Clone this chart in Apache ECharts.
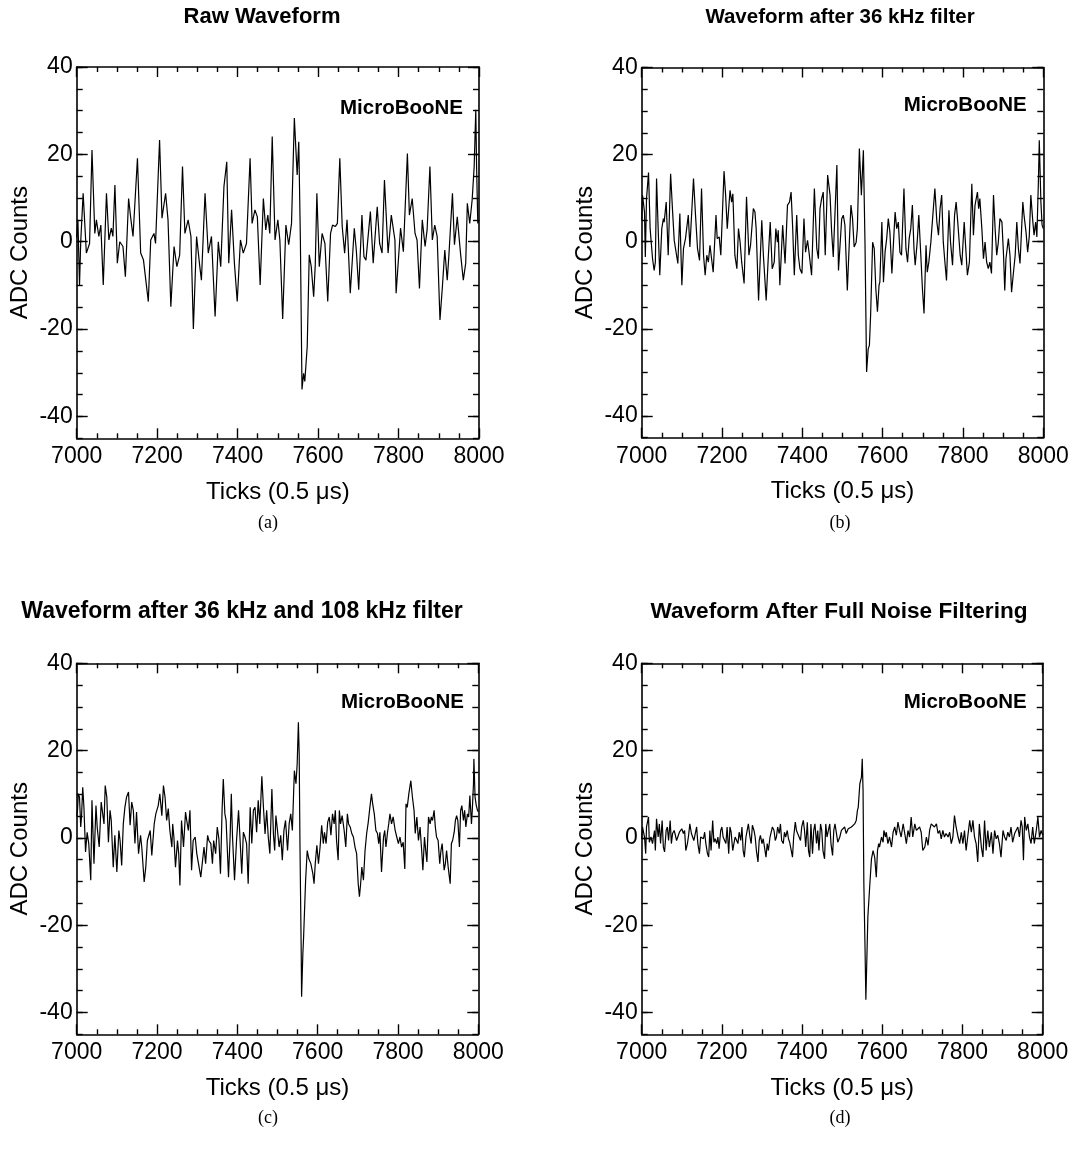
<!DOCTYPE html>
<html>
<head>
<meta charset="utf-8">
<script src="https://cdn.jsdelivr.net/npm/echarts@6/dist/echarts.min.js"></script>
<style>
html,body{margin:0;padding:0;background:#fff;}
#chart{width:1078px;height:1167px;}
</style>
</head>
<body>
<div id="chart"></div>
<script>
// ---- Data: [tick, ADC counts] ----
const rawWaveform = [[7000,1],[7003,5],[7007,-10],[7010,0],[7016,11.1],[7024,-2.6],[7032,-0.4],[7038,21],[7045,1.9],[7049,5],[7055,1.2],[7060,3.8],[7066,-9.9],[7074,11.1],[7080,0.4],[7086,3.1],[7090,1.2],[7095,13],[7101,-4.9],[7107,0],[7115,-1.1],[7121,-8],[7129,9.9],[7134,5.7],[7140,1.2],[7151,19.1],[7159,-2.6],[7166,-4.2],[7178,-13.7],[7184,0.4],[7192,1.9],[7196,-0.4],[7206,23.3],[7212,5.4],[7221,11.1],[7227,5],[7234,-14.9],[7242,-1.1],[7249,-5.7],[7256,-3],[7263,17.2],[7269,1.9],[7277,5],[7284,1.2],[7290,-20],[7298,1.2],[7306,-5.7],[7310,-8.8],[7319,11.1],[7327,-2.6],[7335,1.2],[7344,-17.1],[7352,0],[7358,-5.7],[7366,12.6],[7373,18.3],[7378,-4.9],[7385,7.3],[7392,-4.9],[7399,-13.7],[7407,0.4],[7414,-2.6],[7422,-0.4],[7431,19.1],[7436,4.2],[7443,7.3],[7449,5.7],[7456,-9.9],[7464,9.9],[7470,2.7],[7475,6.1],[7480,1.9],[7486,24.1],[7493,0.4],[7500,5],[7505,0.4],[7512,-17.7],[7520,3.8],[7527,-0.7],[7534,4.2],[7541,28.3],[7548,15.3],[7552,22.9],[7556,0.4],[7560,-33.8],[7564,-30.1],[7567,-32],[7573,-24],[7578,-3],[7583,-5.7],[7589,-12.6],[7593,-5.3],[7597,11.1],[7603,-5.7],[7610,1.9],[7617,-0.4],[7624,-13.7],[7631,1.9],[7636,3.8],[7643,3.5],[7648,4.2],[7654,19.1],[7660,3.5],[7666,-2.6],[7672,5],[7680,-11.8],[7690,3.1],[7695,-1.9],[7701,-11],[7709,6.1],[7714,-3.4],[7719,-4.2],[7730,6.9],[7737,-4.9],[7747,8],[7753,-0.4],[7759,-2.6],[7765,14.1],[7774,-2.6],[7782,6.1],[7791,0.4],[7794,-11.8],[7805,3.1],[7812,-2.3],[7822,20.2],[7827,6.1],[7834,9.9],[7841,1.9],[7846,0.4],[7852,-10.7],[7859,5],[7866,-1.1],[7871,2.7],[7878,17.2],[7884,0.4],[7890,3.8],[7896,1.2],[7903,-17.9],[7909,-10.3],[7915,-1.9],[7921,-8.8],[7925,-3.4],[7934,11.1],[7939,-0.7],[7946,5.7],[7954,-2.6],[7961,-8.8],[7967,-4.9],[7971,8.8],[7977,4.2],[7983,9.6],[7988,17.2],[7992,30.2],[7994,17.2],[7997,4.2],[8000,5]];

const filter36Waveform = [[7000,5],[7002,10.7],[7007,6.8],[7009,-3.5],[7012,9.9],[7017,15.9],[7021,3],[7027,-3.9],[7031,-6.6],[7034,-4.7],[7037,14.5],[7041,3],[7045,-7.7],[7050,3],[7054,5.3],[7056,4.5],[7061,9.1],[7066,-3.1],[7072,15.6],[7077,6.8],[7081,0.3],[7085,0.7],[7090,-5],[7095,6.5],[7100,-10],[7104,-1.6],[7109,0.7],[7112,0.3],[7116,6.1],[7120,-1.2],[7129,14.5],[7134,6.1],[7139,-1.6],[7144,-4.3],[7149,12.2],[7154,-3.1],[7158,-7.7],[7162,-3.1],[7166,-4.7],[7170,-0.8],[7174,-3.9],[7178,-7],[7185,6.1],[7188,0.7],[7193,1.1],[7197,-3.1],[7205,16.2],[7209,10.7],[7213,3],[7220,11.8],[7224,9.1],[7227,11],[7232,-3.1],[7237,-6.2],[7241,3],[7245,-0.1],[7249,-4.7],[7255,-9.6],[7261,10.3],[7267,-3.1],[7271,-0.8],[7278,7.6],[7282,6.8],[7285,3],[7291,-13.5],[7299,4.9],[7303,-3.1],[7310,-13.5],[7315,-3.9],[7320,4.5],[7325,-6.2],[7330,-4.7],[7334,3],[7338,-0.1],[7340,2.6],[7344,-10],[7351,3.8],[7357,-5],[7363,8.4],[7368,9.1],[7372,11.4],[7376,3],[7380,-7.7],[7386,6.1],[7390,-3.1],[7394,-6.2],[7399,-7.3],[7404,5.3],[7408,-2.4],[7413,0.3],[7417,-2.7],[7423,-7.7],[7430,12.2],[7436,-1.6],[7440,-3.9],[7444,7.6],[7448,9.9],[7452,11.4],[7457,-3.1],[7463,15.3],[7469,10.7],[7473,2.2],[7477,-3.5],[7481,-3.1],[7486,17.6],[7490,-6.6],[7498,5.3],[7502,6.1],[7506,3.8],[7512,-11.2],[7517,-0.1],[7521,8.4],[7525,5.3],[7529,-1.2],[7534,-0.1],[7537,3],[7542,21.4],[7547,10.7],[7552,21],[7556,-0.1],[7560,-29.9],[7564,-24.6],[7567,-23.8],[7570,-16.9],[7575,-0.1],[7579,-1.6],[7583,-10.8],[7587,-16.1],[7591,-10],[7593,-9.3],[7598,4.5],[7602,-9.3],[7606,-2.4],[7610,0.7],[7614,5.3],[7618,2.2],[7623,-7.3],[7627,-0.1],[7631,6.8],[7635,3],[7639,4.5],[7643,-2.4],[7647,-3.1],[7653,12.2],[7658,-1.6],[7662,-4.7],[7666,0.7],[7670,3],[7674,8.4],[7678,-1.6],[7681,-5.4],[7686,-0.1],[7690,6.1],[7695,-3.1],[7699,-10.8],[7703,-16.5],[7708,-0.8],[7711,-7],[7715,-4.7],[7720,-0.1],[7725,6.1],[7730,12.2],[7735,4.5],[7739,1.5],[7743,7.6],[7747,10.7],[7751,-0.1],[7755,-4.7],[7759,-8.9],[7765,7.2],[7769,-0.1],[7774,-5.4],[7779,6.1],[7783,9.1],[7787,4.5],[7793,-3.1],[7797,-5.4],[7803,4.5],[7806,-0.1],[7811,-7.7],[7816,-4.7],[7822,13.3],[7826,1.5],[7830,8.4],[7836,11.4],[7839,7.6],[7842,9.9],[7847,3],[7851,-3.9],[7855,-0.1],[7859,-4.7],[7863,-6.2],[7867,-4.7],[7871,-7.3],[7876,10.7],[7880,3],[7884,-3.1],[7888,-0.1],[7892,5.3],[7897,4.5],[7901,-3.1],[7904,-11.2],[7907,-3.9],[7913,0.7],[7917,-3.1],[7921,-11.6],[7925,-7.7],[7930,-3.1],[7934,4.5],[7938,-1.6],[7942,-5],[7946,3],[7949,9.1],[7952,6.1],[7957,2.2],[7961,-2.4],[7965,1.1],[7969,10.7],[7974,4.5],[7977,1.5],[7981,4.5],[7984,1.1],[7988,14.5],[7990,23.3],[7994,9.1],[7997,3.8],[8000,3]];

const filter108Waveform = [[7000,5],[7002,6.3],[7004,10.1],[7007,9.3],[7010,2.5],[7012,4.8],[7015,11.6],[7018,7],[7022,-3.2],[7026,1.3],[7030,-1.3],[7035,-9.7],[7038,8.6],[7043,-5.9],[7048,7.4],[7051,2.5],[7056,-2.1],[7061,8.2],[7064,8.6],[7068,3.2],[7071,12],[7075,9.3],[7079,-1],[7083,6.3],[7086,4],[7091,-6.7],[7095,0.6],[7100,-7.8],[7105,1.7],[7108,-0.6],[7112,-6.3],[7116,3.2],[7120,7],[7124,9.3],[7129,10.5],[7133,2.9],[7137,8.2],[7141,6.3],[7145,-1.3],[7149,5.9],[7154,-3.6],[7159,0.6],[7162,-2.1],[7168,-10.1],[7172,-6.7],[7176,-0.6],[7179,-1],[7183,1.7],[7187,-4],[7193,3.2],[7197,5.5],[7203,7.4],[7207,10.1],[7212,5.1],[7216,12],[7220,9.3],[7224,4],[7228,6.7],[7232,1.7],[7237,-2.1],[7239,3.2],[7242,0.2],[7246,-6.7],[7251,-0.6],[7254,-3.6],[7257,-10.9],[7261,4],[7266,-2.1],[7271,5.9],[7274,4],[7278,1.7],[7282,6.3],[7286,-7.4],[7290,-0.6],[7295,0.2],[7299,-3.6],[7304,-6.3],[7309,-9],[7313,-9.3],[7317,-2.1],[7321,-5.9],[7326,0.6],[7329,-0.6],[7334,-1.3],[7338,-5.9],[7341,-0.6],[7346,-3.6],[7350,2.5],[7354,-0.2],[7358,-8.2],[7362,6.3],[7365,13.5],[7369,5.5],[7372,4],[7378,-9],[7382,0.2],[7385,10.1],[7388,0.2],[7393,-9.7],[7398,-0.6],[7403,6.3],[7405,2.9],[7411,-8.2],[7415,1.3],[7419,0.2],[7423,-1.3],[7427,-10.5],[7432,7],[7436,-1.3],[7440,6.3],[7444,7],[7448,1.3],[7452,8.6],[7456,3.2],[7461,14.1],[7465,7],[7469,0.9],[7473,6.3],[7477,0.2],[7481,-3.6],[7486,11.2],[7490,0.6],[7493,-2.9],[7496,5.1],[7500,1.7],[7504,-2.1],[7508,0.6],[7512,-5.1],[7516,1.7],[7520,4],[7525,-2.9],[7529,3.2],[7533,5.5],[7537,1.7],[7542,15.4],[7546,12.4],[7549,17],[7552,26.5],[7554,19.2],[7556,-2.1],[7559,-25.7],[7560,-36.4],[7563,-26.9],[7565,-22.7],[7570,-9.7],[7574,-2.9],[7578,-4.8],[7583,-5.9],[7588,-8.2],[7591,-10.5],[7594,-5.9],[7598,-1.7],[7602,-5.9],[7606,-2.1],[7610,2.9],[7614,-1.3],[7617,1.3],[7621,-1.3],[7625,3.6],[7629,4.8],[7633,0.6],[7637,5.5],[7641,3.2],[7644,6.3],[7647,-0.6],[7651,-5.1],[7654,6.3],[7657,3.2],[7661,5.1],[7666,1.7],[7670,-2.1],[7674,5.5],[7677,3.2],[7681,2.5],[7685,1],[7689,0.2],[7693,-2.1],[7697,-3.6],[7701,-10.5],[7704,-13.5],[7707,-10.5],[7710,-6.7],[7714,-9.7],[7718,-2.9],[7722,1],[7726,3.6],[7730,7],[7734,10.1],[7737,7.8],[7741,5.5],[7745,1.7],[7749,1],[7752,-1.3],[7755,1.3],[7759,-7.8],[7764,0.2],[7767,1.7],[7770,-2.1],[7774,1.3],[7777,3.2],[7780,5.5],[7784,3.2],[7788,4.8],[7793,1.7],[7797,0.2],[7801,-1.3],[7805,0.2],[7809,-2.1],[7813,-1],[7817,-7.1],[7820,7.8],[7823,7],[7827,10.1],[7832,13.1],[7836,9.3],[7840,6.3],[7843,1],[7847,4.8],[7851,-0.6],[7855,2.5],[7859,-2.9],[7862,-7.4],[7866,0.2],[7869,-2.9],[7872,-5.5],[7876,4.8],[7880,3.2],[7883,4.8],[7886,4],[7890,6.3],[7893,2.5],[7896,0.2],[7900,-0.6],[7904,-5.9],[7907,-2.9],[7910,-1.3],[7915,-7.4],[7918,-5.9],[7921,-2.9],[7925,-6.7],[7930,-10.5],[7933,-1.3],[7936,-0.6],[7940,1.3],[7943,4],[7946,5.1],[7949,4],[7953,-2.1],[7956,6.3],[7959,7.4],[7963,4],[7966,6.3],[7969,2.5],[7973,5.5],[7976,4.8],[7979,9.7],[7983,3.2],[7985,6.3],[7988,12.4],[7989,18.1],[7992,9.3],[7995,7.4],[7998,6.3],[8000,6]];

const fullFilterWaveform = [[7000,0],[7002,2.5],[7007,0.2],[7010,-3.6],[7012,2.5],[7017,4.8],[7019,-1],[7023,0.2],[7027,-1.3],[7032,1.7],[7034,-2.9],[7037,4.4],[7041,0.2],[7044,3.2],[7047,-1.3],[7051,4],[7054,-2.1],[7057,-3.2],[7061,1.7],[7064,2.5],[7067,-0.6],[7071,4],[7074,-1.3],[7077,1],[7081,1.7],[7084,0.6],[7087,-0.6],[7090,-0.2],[7094,1.3],[7097,1.7],[7100,2.1],[7104,1],[7107,1.7],[7110,-2.9],[7114,-1.3],[7117,0.6],[7120,3.2],[7124,1],[7127,1.3],[7130,-0.6],[7134,-0.6],[7137,2.5],[7140,-1.3],[7144,-3.6],[7147,0.2],[7150,0.6],[7154,-0.2],[7157,1.3],[7160,-1.3],[7164,-3.6],[7167,-4.4],[7170,1.7],[7173,-2.9],[7177,4],[7180,-1],[7183,-0.2],[7187,-1.3],[7190,0.2],[7193,-2.5],[7197,1.7],[7200,2.5],[7203,0.2],[7207,0.2],[7210,-1.3],[7213,2.5],[7217,-3.6],[7220,2.5],[7223,1.3],[7227,-2.9],[7230,-1.3],[7233,0.2],[7237,0.6],[7240,-1.3],[7243,1.3],[7247,-0.6],[7250,2.5],[7253,-2.9],[7256,-4.4],[7260,0.2],[7263,1.7],[7266,3.2],[7270,0.2],[7273,-1.3],[7276,2.9],[7280,1.7],[7283,0.2],[7286,-2.9],[7290,-5.5],[7293,-0.6],[7296,0.6],[7300,-1.3],[7303,-0.2],[7306,-0.6],[7310,-4.4],[7313,-1.3],[7316,-2.9],[7320,0.2],[7323,0.2],[7326,2.5],[7330,1.7],[7333,-0.6],[7336,0.2],[7339,2.5],[7343,1],[7346,3.2],[7349,-0.6],[7353,-1.3],[7356,1.3],[7359,0.2],[7363,1.7],[7366,-0.2],[7369,-1],[7373,-2.9],[7376,-4.4],[7379,0.2],[7383,3.6],[7386,1.7],[7389,1],[7393,0.6],[7396,-0.6],[7399,2.5],[7403,4],[7406,1.7],[7409,-2.1],[7413,3.6],[7416,-2.9],[7419,-4.4],[7422,3.2],[7426,-3.6],[7429,1.7],[7432,3.2],[7436,-1.3],[7439,1.7],[7442,-2.9],[7446,3.2],[7449,1.7],[7452,-2.9],[7456,-4.8],[7459,3.2],[7462,0.2],[7466,0.2],[7469,3.2],[7472,-1.3],[7476,-4],[7479,1.7],[7482,3.2],[7486,3.6],[7489,-1],[7492,-0.6],[7494,0.2],[7498,1.7],[7502,1.3],[7506,2.5],[7510,1],[7515,2.1],[7519,1.7],[7523,2.5],[7527,2.9],[7531,3.2],[7535,4],[7538,6.3],[7540,7],[7544,12.4],[7548,13.9],[7550,18.1],[7552,10.9],[7554,-10.5],[7557,-25.7],[7559,-37.1],[7561,-29.5],[7564,-18.1],[7569,-10.5],[7573,-4.8],[7577,-2.9],[7581,-4.4],[7585,-9],[7588,-2.9],[7591,-1.3],[7593,-2.1],[7598,0.2],[7602,-1],[7604,1.7],[7608,0.2],[7610,1.3],[7614,-1.3],[7618,0.2],[7623,-2.1],[7627,1.3],[7631,2.5],[7635,0.6],[7639,3.6],[7643,1.7],[7647,0.2],[7652,3.2],[7656,1],[7660,-1.3],[7664,1.7],[7668,0.2],[7672,4.8],[7676,0.2],[7681,3.2],[7685,1.7],[7689,1.3],[7693,2.5],[7697,1.3],[7701,-2.9],[7706,-2.1],[7710,0.2],[7714,-1.7],[7718,1.7],[7722,3.2],[7726,2.9],[7730,2.5],[7735,3.2],[7739,1],[7743,1.7],[7747,-0.2],[7751,1.7],[7755,0.2],[7759,1],[7764,0.2],[7768,1.3],[7772,-1.3],[7776,0.2],[7780,5.1],[7784,2.5],[7789,0.2],[7793,-1.3],[7797,1.3],[7801,-1.3],[7805,1.7],[7809,-2.9],[7813,0.2],[7818,4],[7822,1.3],[7826,4],[7830,0.2],[7834,-1.3],[7838,-5.5],[7842,3.2],[7847,-2.1],[7851,-4.4],[7855,4],[7859,-2.9],[7863,1.7],[7867,-2.1],[7872,1.3],[7876,-3.6],[7880,1.7],[7884,-0.2],[7888,0.6],[7892,-1.3],[7896,-4.4],[7901,1.7],[7905,0.2],[7909,-0.6],[7913,1.3],[7917,0.2],[7921,2.5],[7925,-1],[7930,1],[7934,0.6],[7938,2.5],[7942,0.2],[7946,4],[7949,2.5],[7952,-5.1],[7955,4.8],[7959,1.7],[7963,3.2],[7967,0.2],[7971,-1.3],[7975,2.5],[7979,-1.3],[7984,1.7],[7988,4.8],[7992,0.2],[7996,1.7],[8000,0.6]];

// ---- Text ----
const panelTitles = ['Raw Waveform', 'Waveform after 36 kHz filter', 'Waveform after 36 kHz and 108 kHz filter', 'Waveform After Full Noise Filtering'];
const subCaptions = ['(a)', '(b)', '(c)', '(d)'];
const watermark = 'MicroBooNE';
const xTitle = 'Ticks (0.5 \u03bcs)';
const yTitle = 'ADC Counts';

// ---- Axis settings ----
const xRange = [7000, 8000];
const xMajorStep = 200;
const yRange = [-45, 40];
const yMajorTicks = [-40, -20, 0, 20, 40];
const yMinorStep = 5;

// ---- Layout (pixels) ----
const panels = [
  {data: rawWaveform,        left: 76.7,  top: 67,    width: 402.3, height: 371.3, titleX: 262, titleY: 17,  titleSize: 22,   capX: 268, capY: 523,  wmX: 463,    wmY: 108},
  {data: filter36Waveform,   left: 641.7, top: 67.5,  width: 401.6, height: 370.2, titleX: 840, titleY: 17,  titleSize: 20.5, capX: 840, capY: 523,  wmX: 1026.7, wmY: 105},
  {data: filter108Waveform,  left: 76.7,  top: 663.3, width: 401.6, height: 371,   titleX: 242, titleY: 612, titleSize: 23,   capX: 268, capY: 1118, wmX: 464,    wmY: 702},
  {data: fullFilterWaveform, left: 641.7, top: 663.3, width: 401,   height: 371,   titleX: 839, titleY: 612, titleSize: 22.6, capX: 840, capY: 1118, wmX: 1026.7, wmY: 702}
];

const FONT = '"Liberation Sans", Arial, Helvetica, sans-serif';
const LINE = {color: '#000', width: 1.6};
const TICKLINE = {color: '#000', width: 1.4};

const grids = [], xAxes = [], yAxes = [], series = [], graphics = [];

panels.forEach((p, i) => {
  grids.push({left: p.left, top: p.top, width: p.width, height: p.height, containLabel: false});
  const xBase = {
    gridIndex: i, type: 'value', min: xRange[0], max: xRange[1], interval: xMajorStep,
    axisLine: {show: true, onZero: false, lineStyle: LINE},
    axisTick: {show: true, inside: true, length: 10, lineStyle: TICKLINE},
    minorTick: {show: true, splitNumber: 4, length: 5, lineStyle: TICKLINE},
    splitLine: {show: false}, minorSplitLine: {show: false}
  };
  xAxes.push(Object.assign({}, xBase, {
    position: 'bottom',
    axisLabel: {show: true, color: '#000', fontFamily: FONT, fontSize: 23, margin: 7, formatter: v => String(v)},
    name: xTitle, nameLocation: 'middle', nameGap: 42,
    nameTextStyle: {color: '#000', fontFamily: FONT, fontSize: 24}
  }));
  xAxes.push(Object.assign({}, xBase, {position: 'top', axisLabel: {show: false}}));

  const yMajor = {
    gridIndex: i, type: 'value', min: yRange[0], max: yRange[1],
    axisLine: {show: true, onZero: false, lineStyle: LINE},
    axisTick: {show: true, inside: true, length: 11, lineStyle: TICKLINE, customValues: yMajorTicks},
    splitLine: {show: false}
  };
  const yMinor = {
    gridIndex: i, type: 'value', min: yRange[0], max: yRange[1], interval: yMinorStep,
    axisLine: {show: false},
    axisTick: {show: true, inside: true, length: 6, lineStyle: TICKLINE},
    axisLabel: {show: false}, splitLine: {show: false}
  };
  yAxes.push(Object.assign({}, yMajor, {
    position: 'left',
    axisLabel: {show: true, color: '#000', fontFamily: FONT, fontSize: 23, margin: 4, customValues: yMajorTicks, formatter: v => String(v)},
    name: yTitle, nameLocation: 'middle', nameGap: 44, nameRotate: 90,
    nameTextStyle: {color: '#000', fontFamily: FONT, fontSize: 24}
  }));
  yAxes.push(Object.assign({}, yMinor, {position: 'left'}));
  yAxes.push(Object.assign({}, yMajor, {position: 'right', axisLabel: {show: false}}));
  yAxes.push(Object.assign({}, yMinor, {position: 'right'}));

  series.push({
    type: 'line', xAxisIndex: 2 * i, yAxisIndex: 4 * i, data: p.data,
    showSymbol: false, symbol: 'none', clip: true,
    lineStyle: {color: '#000', width: 1.2}, animation: false
  });

  graphics.push({type: 'text', x: p.titleX, y: p.titleY, style: {text: panelTitles[i], fill: '#000', fontFamily: FONT, fontWeight: 'bold', fontSize: p.titleSize, align: 'center', verticalAlign: 'middle'}});
  graphics.push({type: 'text', x: p.wmX, y: p.wmY, style: {text: watermark, fill: '#000', fontFamily: FONT, fontWeight: 'bold', fontSize: 20.5, align: 'right', verticalAlign: 'middle'}});
  graphics.push({type: 'text', x: p.capX, y: p.capY, style: {text: subCaptions[i], fill: '#000', fontFamily: '"Liberation Serif", "Times New Roman", serif', fontSize: 18, align: 'center', verticalAlign: 'middle'}});
});

const chart = echarts.init(document.getElementById('chart'), null, {renderer: 'canvas'});
chart.setOption({
  animation: false,
  backgroundColor: '#fff',
  grid: grids, xAxis: xAxes, yAxis: yAxes, series: series,
  graphic: graphics
});
</script>
</body>
</html>
